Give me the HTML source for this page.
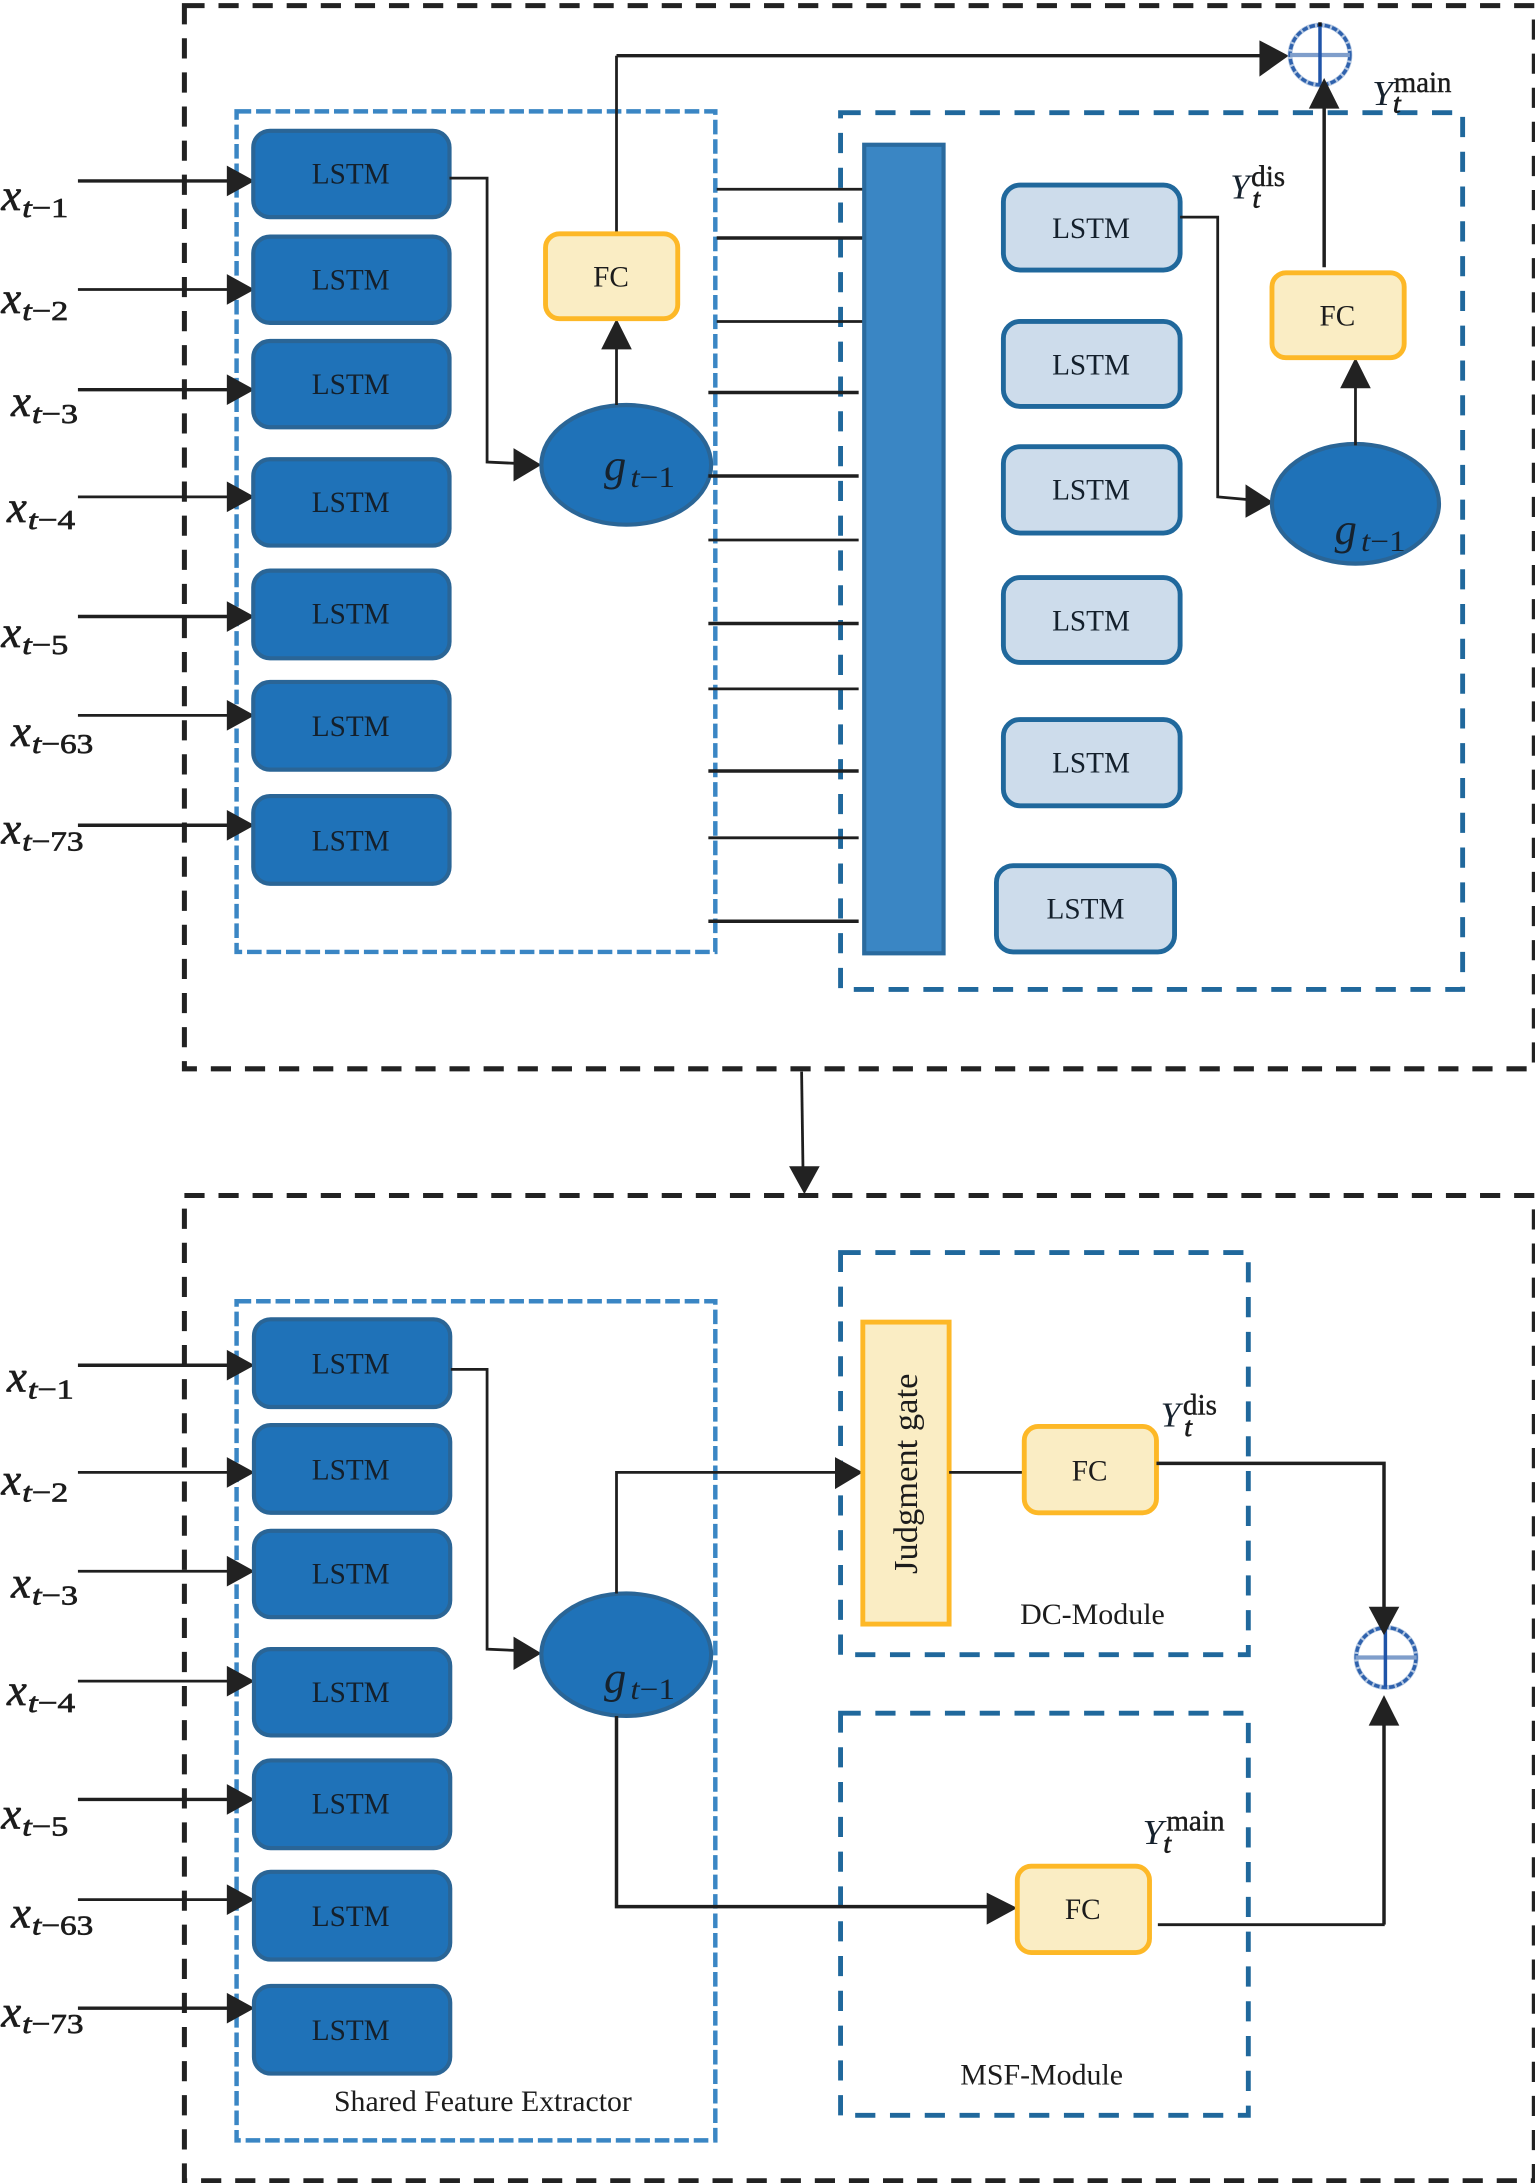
<!DOCTYPE html>
<html><head><meta charset="utf-8">
<style>
html,body{margin:0;padding:0;background:#fff}
svg{display:block}
text{font-family:"Liberation Serif",serif;fill:#1c1c1c}
.l{font-size:21px;text-anchor:middle;fill:#14202c}
.f{font-size:21px;text-anchor:middle}
.m{font-size:21px}
.i{font-style:italic;stroke:#1c1c1c;stroke-width:.5px}
.g{font-style:italic;fill:#16222e}
.n{font-style:normal}
.sb{stroke:#1c1c1c;stroke-width:.3px}
.a{fill:#222}
.c{fill:none;stroke:#1f1f1f;stroke-width:2}
.t{fill:none;stroke:#1f1f1f;stroke-width:2.5}
.o{fill:none;stroke:#222;stroke-width:3.6;stroke-dasharray:14.5 10}
.b{fill:none;stroke:#3a86c4;stroke-width:3.2;stroke-dasharray:10.5 3.5}
.d{fill:none;stroke:#20689c;stroke-width:3.5;stroke-dasharray:14.5 10.5}
.k{fill:#1f72b8;stroke:#2a6596;stroke-width:3}
.w{fill:#cddceb;stroke:#20689c;stroke-width:3.5}
.y{fill:#faedc4;stroke:#fdb827;stroke-width:3.5}
</style></head><body>
<svg width="1535" height="2183" viewBox="0 0 1103 1568.6" xmlns="http://www.w3.org/2000/svg">
<!-- outer -->
<rect class="o" x="132.500" y="4" width="970" height="764"/>
<rect class="o" x="132.500" y="859" width="970" height="708"/>
<!-- dashed boxes -->
<rect class="b" x="170" y="80" width="344" height="604"/>
<rect class="d" x="604" y="81" width="447" height="630"/>
<rect class="b" x="170" y="935" width="344" height="603"/>
<rect class="d" x="604" y="900" width="293" height="289"/>
<rect class="d" x="604" y="1231" width="293" height="289"/>

<!-- top input lines -->
<path class="t" d="M56 130H170M56 280H170M56 443H170"/>
<path class="c" d="M56 208H170M56 357H170M56 514H170"/>
<path class="t" d="M56 593H170"/>
<path class="a" d="M183 130L163 119V141ZM183 208L163 197V219ZM183 280L163 269V291ZM183 357L163 346V368ZM183 443L163 432V454ZM183 514L163 503V525ZM183 593L163 582V604Z"/>
<!-- bottom input lines -->
<path class="t" d="M56 981H170M56 1293H170M56 1443H170"/>
<path class="c" d="M56 1058H170M56 1129H170M56 1208H170M56 1365H170"/>
<path class="a" d="M183 981L163 970V992ZM183 1058L163 1047V1069ZM183 1129L163 1118V1140ZM183 1208L163 1197V1219ZM183 1293L163 1282V1304ZM183 1365L163 1354V1376ZM183 1443L163 1432V1454Z"/>

<!-- LSTM top left -->
<rect class="k" x="182" y="94" width="141" height="62" rx="12"/>
<rect class="k" x="182" y="170" width="141" height="62" rx="12"/>
<rect class="k" x="182" y="245" width="141" height="62" rx="12"/>
<rect class="k" x="182" y="330" width="141" height="62" rx="12"/>
<rect class="k" x="182" y="410" width="141" height="63" rx="12"/>
<rect class="k" x="182" y="490" width="141" height="63" rx="12"/>
<rect class="k" x="182" y="572" width="141" height="63" rx="12"/>
<text class="l" x="252" y="132">LSTM</text>
<text class="l" x="252" y="208">LSTM</text>
<text class="l" x="252" y="283">LSTM</text>
<text class="l" x="252" y="368">LSTM</text>
<text class="l" x="252" y="448">LSTM</text>
<text class="l" x="252" y="529">LSTM</text>
<text class="l" x="252" y="611">LSTM</text>

<!-- LSTM bottom left -->
<rect class="k" x="182.500" y="948" width="141" height="63" rx="12"/>
<rect class="k" x="182.500" y="1024" width="141" height="63" rx="12"/>
<rect class="k" x="182.500" y="1100" width="141" height="62" rx="12"/>
<rect class="k" x="182.500" y="1185" width="141" height="62" rx="12"/>
<rect class="k" x="182.500" y="1265" width="141" height="63" rx="12"/>
<rect class="k" x="182.500" y="1345" width="141" height="63" rx="12"/>
<rect class="k" x="182.500" y="1427" width="141" height="63" rx="12"/>
<text class="l" x="252" y="987">LSTM</text>
<text class="l" x="252" y="1063">LSTM</text>
<text class="l" x="252" y="1138">LSTM</text>
<text class="l" x="252" y="1223">LSTM</text>
<text class="l" x="252" y="1303">LSTM</text>
<text class="l" x="252" y="1384">LSTM</text>
<text class="l" x="252" y="1466">LSTM</text>

<!-- top connectors -->
<path class="c" d="M323 128H350V332L372 333"/>
<path class="a" d="M389 334L369 322V346Z"/>
<ellipse class="k" cx="450" cy="334" rx="61" ry="43"/>
<path class="c" d="M443 291V248" />
<path class="a" d="M443 229L432 251H454Z"/>
<path class="c" d="M443 168V40"/>
<path class="t" d="M443 40H908"/>
<path class="a" d="M926 40L905 29V55Z"/>
<rect class="y" x="392" y="168" width="95" height="61" rx="10"/>
<text class="f" x="439" y="206">FC</text>

<!-- feature lines -->
<path class="c" d="M515 136H620M515 231H620M509 388H617M509 495H617M509 602H617"/>
<path class="t" d="M515 171H620M509 282H617M509 342H617M509 448H617M509 554H617M509 662H617"/>
<rect x="621" y="104" width="57" height="581" fill="#3a86c4" stroke="#2a6a9e" stroke-width="3"/>

<!-- light LSTM -->
<rect class="w" x="721" y="133" width="127" height="61" rx="12"/>
<rect class="w" x="721" y="231" width="127" height="61" rx="12"/>
<rect class="w" x="721" y="321" width="127" height="62" rx="12"/>
<rect class="w" x="721" y="415" width="127" height="61" rx="12"/>
<rect class="w" x="721" y="517" width="127" height="62" rx="12"/>
<rect class="w" x="716" y="622" width="128" height="62" rx="12"/>
<text class="l" x="784" y="171">LSTM</text>
<text class="l" x="784" y="269">LSTM</text>
<text class="l" x="784" y="359">LSTM</text>
<text class="l" x="784" y="453">LSTM</text>
<text class="l" x="784" y="555">LSTM</text>
<text class="l" x="780" y="660">LSTM</text>

<!-- right upper -->
<path class="c" d="M848 156H875V357L897 359"/>
<path class="a" d="M915 361L895 348V372Z"/>
<ellipse class="k" cx="974" cy="362" rx="60" ry="43"/>
<path class="c" d="M974 320V275"/>
<path class="a" d="M974 257L963 279H985Z"/>
<rect class="y" x="914" y="196" width="95" height="61" rx="10"/>
<text class="f" x="961" y="234">FC</text>
<path class="t" d="M951.500 192V76"/>
<circle cx="948.500" cy="39.500" r="21.500" fill="#fff" stroke="#b5c8e2" stroke-width="3.500"/>
<circle cx="948.500" cy="39.500" r="21.500" fill="none" stroke="#2f62ad" stroke-width="2.500" stroke-dasharray="4 1.500"/>
<path d="M927 39.500H970" stroke="#7f9ecb" stroke-width="3"/>
<path d="M948.500 18V60" stroke="#1f54a8" stroke-width="2.500"/>
<path d="M948.500 16V19" stroke="#111" stroke-width="2.500"/>
<path class="a" d="M951.500 56L940.500 78H962.500Z"/>

<!-- between -->
<path class="c" d="M576 770L577 840"/>
<path class="a" d="M578 858L567 838H589Z"/>

<!-- bottom -->
<path class="c" d="M324 984H350V1185L372 1186"/>
<path class="a" d="M389 1188L369 1176V1200Z"/>
<ellipse class="k" cx="450" cy="1189" rx="61" ry="44"/>
<path class="c" d="M443 1145V1058H602"/>
<path class="a" d="M620 1058L600 1047V1070Z"/>
<path class="t" d="M443 1233V1370H712"/>
<path class="a" d="M731 1371L709 1360V1383Z"/>
<rect class="y" x="620" y="950" width="62" height="217"/>
<text x="0" y="0" transform="translate(659,1131) rotate(-90)" font-size="24" textLength="144" lengthAdjust="spacingAndGlyphs">Judgment gate</text>
<path class="c" d="M682 1058H736"/>
<rect class="y" x="736" y="1025" width="95" height="62" rx="10"/>
<text class="f" x="783" y="1064">FC</text>
<circle cx="996" cy="1191" r="21.500" fill="#fff" stroke="#b5c8e2" stroke-width="3.500"/>
<circle cx="996" cy="1191" r="21.500" fill="none" stroke="#2f62ad" stroke-width="2.500" stroke-dasharray="4 1.500"/>
<path d="M974 1191H1018" stroke="#7f9ecb" stroke-width="3"/>
<path d="M995.500 1170V1212" stroke="#1f54a8" stroke-width="2.500"/>
<path class="t" d="M831 1051.500H994.500V1160"/>
<path class="a" d="M994.500 1175L983.500 1154.500H1005.500Z"/>
<path class="t" d="M994.500 1383V1236"/>
<path class="a" d="M994.500 1218L983.500 1240H1005.500Z"/>
<path class="c" d="M832 1383H995"/>
<rect class="y" x="731" y="1341" width="95" height="62" rx="10"/>
<text class="f" x="778" y="1379">FC</text>

<text class="m" x="733" y="1167" textLength="104" lengthAdjust="spacingAndGlyphs">DC-Module</text>
<text class="m" x="690" y="1498" textLength="117" lengthAdjust="spacingAndGlyphs">MSF-Module</text>
<text class="m" x="240" y="1517" textLength="214" lengthAdjust="spacingAndGlyphs">Shared Feature Extractor</text>

<!-- g labels -->
<text class="g" x="434" y="345" font-size="32">g</text><text class="g" x="453" y="350" font-size="21" textLength="32" lengthAdjust="spacingAndGlyphs">t<tspan class="n">−1</tspan></text>
<text class="g" x="959" y="391" font-size="32">g</text><text class="g" x="978" y="396" font-size="21" textLength="32" lengthAdjust="spacingAndGlyphs">t<tspan class="n">−1</tspan></text>
<text class="g" x="434" y="1216" font-size="32">g</text><text class="g" x="453" y="1221" font-size="21" textLength="32" lengthAdjust="spacingAndGlyphs">t<tspan class="n">−1</tspan></text>

<!-- x labels top -->
<text class="i" x="1" y="151" font-size="32">x</text><text class="i" x="16" y="156" font-size="20" textLength="33" lengthAdjust="spacingAndGlyphs">t<tspan class="n">−1</tspan></text>
<text class="i" x="1" y="225" font-size="32">x</text><text class="i" x="16" y="230" font-size="20" textLength="33" lengthAdjust="spacingAndGlyphs">t<tspan class="n">−2</tspan></text>
<text class="i" x="8" y="299" font-size="32">x</text><text class="i" x="23" y="304" font-size="20" textLength="33" lengthAdjust="spacingAndGlyphs">t<tspan class="n">−3</tspan></text>
<text class="i" x="5" y="375" font-size="32">x</text><text class="i" x="20" y="380" font-size="20" textLength="34" lengthAdjust="spacingAndGlyphs">t<tspan class="n">−4</tspan></text>
<text class="i" x="1" y="465" font-size="32">x</text><text class="i" x="16" y="470" font-size="20" textLength="33" lengthAdjust="spacingAndGlyphs">t<tspan class="n">−5</tspan></text>
<text class="i" x="8" y="536" font-size="32">x</text><text class="i" x="23" y="541" font-size="20" textLength="44" lengthAdjust="spacingAndGlyphs">t<tspan class="n">−63</tspan></text>
<text class="i" x="1" y="606" font-size="32">x</text><text class="i" x="16" y="611" font-size="20" textLength="44" lengthAdjust="spacingAndGlyphs">t<tspan class="n">−73</tspan></text>
<!-- x labels bottom -->
<text class="i" x="5" y="1000" font-size="32">x</text><text class="i" x="20" y="1005" font-size="20" textLength="33" lengthAdjust="spacingAndGlyphs">t<tspan class="n">−1</tspan></text>
<text class="i" x="1" y="1074" font-size="32">x</text><text class="i" x="16" y="1079" font-size="20" textLength="33" lengthAdjust="spacingAndGlyphs">t<tspan class="n">−2</tspan></text>
<text class="i" x="8" y="1148" font-size="32">x</text><text class="i" x="23" y="1153" font-size="20" textLength="33" lengthAdjust="spacingAndGlyphs">t<tspan class="n">−3</tspan></text>
<text class="i" x="5" y="1225" font-size="32">x</text><text class="i" x="20" y="1230" font-size="20" textLength="34" lengthAdjust="spacingAndGlyphs">t<tspan class="n">−4</tspan></text>
<text class="i" x="1" y="1314" font-size="32">x</text><text class="i" x="16" y="1319" font-size="20" textLength="33" lengthAdjust="spacingAndGlyphs">t<tspan class="n">−5</tspan></text>
<text class="i" x="8" y="1385" font-size="32">x</text><text class="i" x="23" y="1390" font-size="20" textLength="44" lengthAdjust="spacingAndGlyphs">t<tspan class="n">−63</tspan></text>
<text class="i" x="1" y="1456" font-size="32">x</text><text class="i" x="16" y="1461" font-size="20" textLength="44" lengthAdjust="spacingAndGlyphs">t<tspan class="n">−73</tspan></text>

<!-- Y labels -->
<text class="g" x="986" y="75.500" font-size="25" textLength="15" lengthAdjust="spacingAndGlyphs">Y</text><text class="sb" x="1001.500" y="66" font-size="21" textLength="41.500" lengthAdjust="spacingAndGlyphs">main</text><text class="i" x="1001" y="81" font-size="20">t</text>
<text class="g" x="884" y="142.500" font-size="25" textLength="14" lengthAdjust="spacingAndGlyphs">Y</text><text class="sb" x="899" y="133.500" font-size="21" textLength="24.500" lengthAdjust="spacingAndGlyphs">dis</text><text class="i" x="900" y="149" font-size="20">t</text>
<text class="g" x="834" y="1025" font-size="25" textLength="14" lengthAdjust="spacingAndGlyphs">Y</text><text class="sb" x="850" y="1016.500" font-size="21" textLength="24.500" lengthAdjust="spacingAndGlyphs">dis</text><text class="i" x="851" y="1032" font-size="20">t</text>
<text class="g" x="821" y="1325" font-size="25" textLength="15" lengthAdjust="spacingAndGlyphs">Y</text><text class="sb" x="838" y="1315.500" font-size="21" textLength="42" lengthAdjust="spacingAndGlyphs">main</text><text class="i" x="836" y="1331" font-size="20">t</text>
</svg>
</body></html>
